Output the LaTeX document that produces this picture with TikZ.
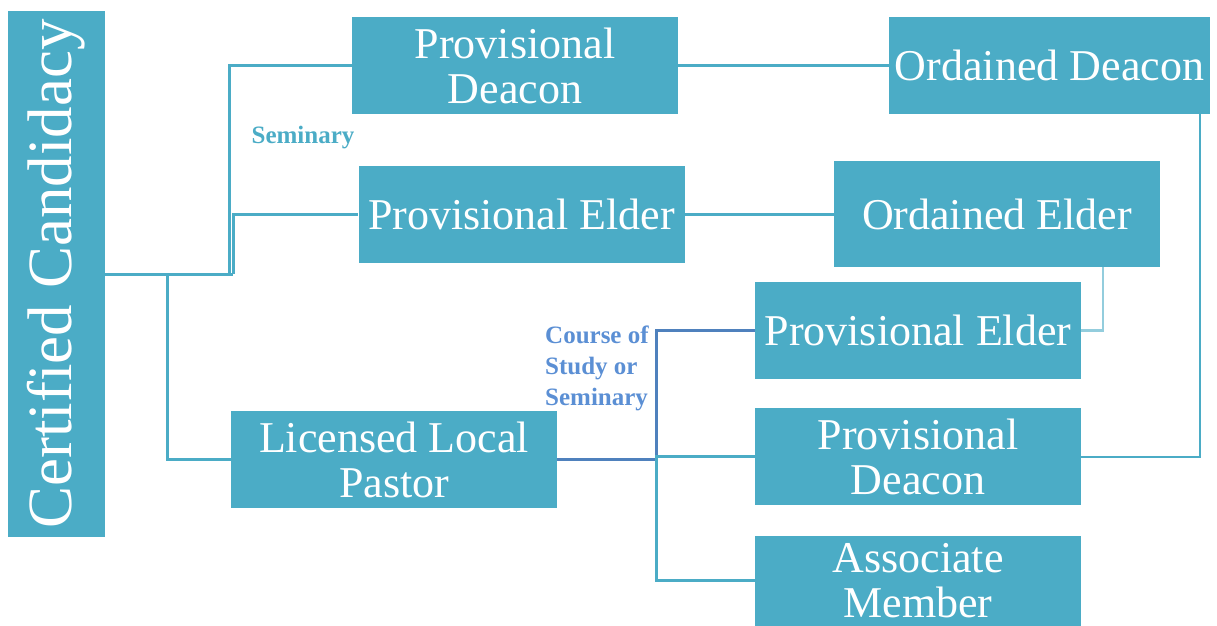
\documentclass[tikz,border=0pt]{standalone}
\usepackage{fontspec}
\setmainfont{Liberation Serif}
\usepackage{xcolor}
\usepackage{tikz}
\usetikzlibrary{positioning,calc}
\definecolor{boxteal}{HTML}{4BACC6}
\definecolor{lineblue}{HTML}{4F81BD}
\definecolor{lightline}{HTML}{93CDDD}
\definecolor{labelblue}{HTML}{5B8FD4}

\begin{document}
\begin{tikzpicture}[x=1pt, y=-1pt,
        box/.style={fill=boxteal, text=white, inner sep=0pt, minimum width=326pt, minimum height=97pt, align=center, font=\fontsize{44}{45}\selectfont},
        conn/.style={draw=boxteal, line width=3pt},
        lbl/.style={font=\bfseries\fontsize{25}{31}\selectfont, inner sep=0pt}]
        \useasboundingbox (0,0) rectangle (1217,625);
        \node[box, minimum width=97pt, minimum height=526pt, font=\fontsize{63}{63}\selectfont] (cert) at (56.5,274) {\rotatebox{90}{Certified Candidacy}};
        \node[box] (pdeac) at (515,65.5) {Provisional\\Deacon};
        \node[box, minimum width=321pt] (odeac) at (1049.5,65.5) {Ordained Deacon};
        \node[box] (pelder) at (521.5,214) {Provisional Elder};
        \node[box, minimum height=106pt] (oelder) at (997,214) {Ordained Elder};
        \node[box] (llp) at (394,459.5) {Licensed Local\\Pastor};
        \node[box] (pelder2) at (918,330.5) {Provisional Elder};
        \node[box, below=29pt of pelder2] (pdeac2) {Provisional\\Deacon};
        \node[box, minimum height=90pt, below=30pt of pdeac2] (assoc) {Associate\\Member};
        \node[lbl, text=boxteal] (sem) at (303,138) {Seminary};
        \node[lbl, text=labelblue, align=left, anchor=west] (cos) at (545,368) {Course of\\Study or\\Seminary};
        % branches from the candidacy
        \coordinate (j1) at (229,274);
        \coordinate (j1b) at (233,274);
        \coordinate (j2) at (167,274);
        \coordinate (j3) at (656,459.5);
        \draw[conn] (cert.east) -- (j1b);
        \draw[conn] (j1) |- (pdeac.west);
        \draw[conn] (j1b) |- (pelder.west);
        \draw[conn] (j2) |- (llp.west);
        \draw[conn] (pdeac.east) -- (odeac.west);
        \draw[conn] (pelder.east) -- (oelder.west);
        % local pastor routes
        \draw[conn, draw=lineblue] (llp.east) -- (j3) |- (pelder2.west);
        \draw[conn] (j3) |- (pdeac2.west);
        \draw[conn] (j3) |- (assoc.west);
        \draw[conn, draw=lightline, line width=2.5pt] ([xshift=-57pt]oelder.south east) |- (pelder2.east);
        \draw[conn, line width=2.5pt] ([xshift=-10pt]odeac.south east) |- (pdeac2.east);
    \end{tikzpicture}
\end{document}
